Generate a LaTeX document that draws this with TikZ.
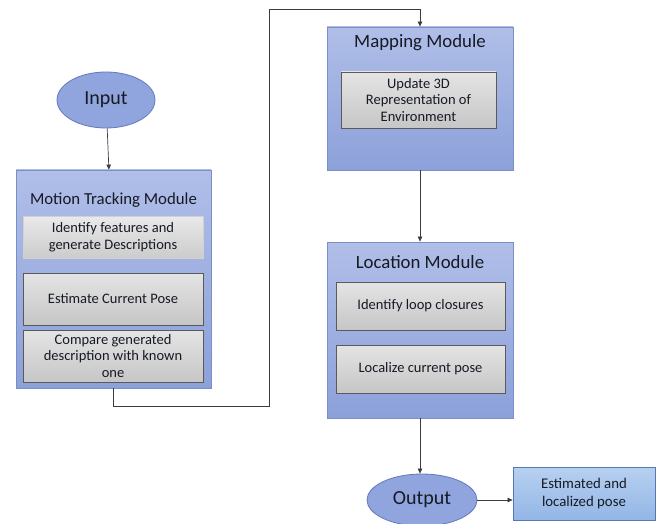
\documentclass[tikz,border=0pt]{standalone}
\usepackage{fontspec}
\setmainfont{Carlito}
\usetikzlibrary{arrows.meta,shapes.geometric}
\definecolor{modtop}{HTML}{B0BEE8}
\definecolor{modbot}{HTML}{8CA1DA}
\definecolor{modline}{HTML}{7A8FC6}
\definecolor{graytop}{HTML}{E4E4E4}
\definecolor{graybot}{HTML}{C6C6C6}
\definecolor{grayline}{HTML}{5A5A5A}
\definecolor{elfill}{HTML}{90A4DE}
\definecolor{elline}{HTML}{6478BC}
\definecolor{esttop}{HTML}{B6D0F0}
\definecolor{estbot}{HTML}{94B6E6}
\definecolor{estline}{HTML}{5478B4}
\definecolor{txt}{HTML}{161A24}
\definecolor{conn}{HTML}{3C3C3C}
\begin{document}
\begin{tikzpicture}[x=1pt,y=-1pt,
  module/.style={draw=modline,line width=0.8pt,top color=modtop,bottom color=modbot,rectangle,inner sep=0pt},
  title/.style={font=\fontsize{16.8}{20}\selectfont,text=txt,inner sep=0pt},
  bigtitle/.style={title,font=\fontsize{18.8}{22}\selectfont},
  task/.style={draw=grayline,line width=0.7pt,top color=graytop,bottom color=graybot,rectangle,inner sep=0pt,align=center,font=\fontsize{14.5}{16.8}\selectfont,text=txt},
  tasklight/.style={task,draw=graybot!80,top color=graytop!80!white,bottom color=graybot!90!white},
  term/.style={ellipse,draw=elline,line width=0.8pt,fill=elfill,inner sep=0pt,font=\fontsize{20}{24}\selectfont,text=txt},
  result/.style={draw=estline,line width=0.8pt,top color=esttop,bottom color=estbot,rectangle,inner sep=0pt,align=center,font=\fontsize{14.8}{17.5}\selectfont,text=txt},
  arr/.style={draw=conn,line width=0.7pt,-{Triangle[length=5pt,width=4.5pt]}}]
\useasboundingbox (0,0) rectangle (659,524);

% Input
\node[term,minimum width=98pt,minimum height=56pt] (input) at (106,100) {Input};

% Motion tracking module
\node[module,minimum width=195pt,minimum height=218pt] (motion) at (113.5,279) {};
\node[title] (motiont) at (113.5,200) {Motion Tracking Module};
\node[tasklight,minimum width=180pt,minimum height=42pt] (m1) at (113,237) {Identify features and\\generate Descriptions};
\node[task,minimum width=180pt,minimum height=52pt] (m2) at (113,299) {Estimate Current Pose};
\node[task,minimum width=180pt,minimum height=52pt] (m3) at (113,356) {Compare generated\\description with known\\one};

% Mapping module
\node[module,minimum width=186pt,minimum height=143pt] (mapping) at (420,98.5) {};
\node[bigtitle] (mappingt) at (420,43) {Mapping Module};
\node[task,minimum width=155pt,minimum height=56pt] (p1) at (418.5,100) {Update 3D\\Representation of\\Environment};

% Location module
\node[module,minimum width=186pt,minimum height=176pt] (location) at (420,330) {};
\node[bigtitle] (locationt) at (420,262) {Location Module};
\node[task,minimum width=169pt,minimum height=48pt] (l1) at (420.5,306) {Identify loop closures};
\node[task,minimum width=169pt,minimum height=48pt] (l2) at (420.5,369) {Localize current pose};

% Output and result
\node[term,minimum width=110pt,minimum height=52pt] (output) at (422,500) {Output};
\node[result,minimum width=142pt,minimum height=53pt] (est) at (584,493.5) {Estimated and\\localized pose};

% Connectors
\coordinate (c1) at (269,406);
\coordinate (c2) at (269,9);
\draw[arr] (input) -- (motion);
\draw[arr] (motion.south) |- (c1) -- (c2) -| (mapping.north);
\draw[arr] (mapping) -- (location);
\draw[arr] (location.south) -- (location.south |- output.north);
\draw[arr] (output.east) -- (output.east -| est.west);
\end{tikzpicture}
\end{document}
